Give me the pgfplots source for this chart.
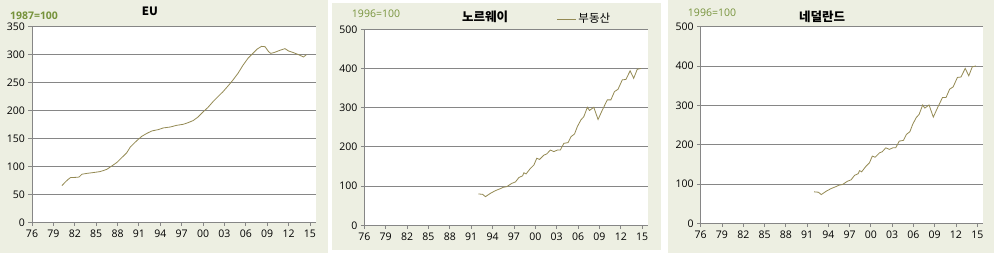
\documentclass[border=0pt]{standalone}
\usepackage{pgfplots}
\pgfplotsset{compat=1.18}
\usepackage{fontspec}
\setmainfont{Open Sans}
\newfontfamily\kr{Noto Sans CJK KR}
\definecolor{bg}{HTML}{EDEFE2}
\definecolor{ln}{HTML}{948A54}
\definecolor{gr}{HTML}{868686}
\definecolor{ol}{HTML}{77933C}
\pgfplotsset{myax/.style={scale only axis, anchor=south west,
  axis x line*=bottom, axis y line*=left,
  axis line style={gr, line width=0.8pt, -},
  ymajorgrids, grid style={gr, line width=0.8pt},
  xmin=1976, xmax=2015.85,
  xtick={1976,1979,...,2015},
  xticklabels={76,79,82,85,88,91,94,97,00,03,06,09,12,15},
  tick align=outside, major tick length=3.5pt,
  tick style={gr, line width=0.8pt},
  ticklabel style={font=\fontsize{10.5}{11}\selectfont},
  xticklabel style={yshift=-1pt},
  /pgf/number format/assume math mode=true,
  axis background/.style={fill=white},
  clip=false}}
\pgfplotstableread{
x y
1980.2 65.6
1980.6 71
1981.0 76
1981.4 80
1982.3 80.5
1982.6 81
1983.0 86
1983.8 87.7
1984.6 89
1985.5 90.6
1986.0 92.5
1986.5 94.8
1987.2 100.8
1987.9 107
1988.6 115.7
1989.3 124.6
1989.8 134.8
1990.7 146
1991.4 153.8
1992.1 159
1992.8 163.4
1993.7 165.8
1994.4 168.8
1995.4 170.5
1996.3 173.5
1997.2 175.3
1997.9 178.3
1998.6 181.9
1999.3 188.4
2000.0 197.4
2000.7 205.7
2001.4 215.9
2002.1 224.8
2002.8 233.7
2003.5 243.9
2004.2 254.6
2004.9 266.5
2005.6 280.9
2006.3 293.4
2007.0 302.3
2007.6 310
2008.2 314.8
2008.7 314.2
2009.2 305.3
2009.5 302.3
2009.9 303.5
2010.3 305.3
2010.9 308.3
2011.5 310.7
2012.0 306.5
2012.7 303.5
2013.3 300.5
2014.1 295.8
2014.5 300
}\eu
\pgfplotstableread{
x y
1992.0 80
1992.6 79
1993.0 73
1993.7 81.6
1994.4 88.4
1995.1 93.5
1995.5 97
1996.0 98.6
1996.7 107
1997.2 110.5
1997.7 122
1998.2 126
1998.4 134
1998.7 131
1999.3 145
1999.8 154
2000.2 171
2000.6 168
2001.2 179
2001.6 182
2002.1 192
2002.6 188
2003.1 192
2003.5 192
2004.0 209
2004.6 211
2005.0 226
2005.5 233
2005.9 252
2006.4 269
2006.8 277
2007.3 301
2007.6 293
2008.2 301
2008.8 270
2009.4 294
2010.1 320
2010.6 320
2011.1 341
2011.6 347
2012.2 371
2012.7 372
2013.3 394
2013.8 375
2014.3 398
2014.8 400
}\no
\begin{document}
\begin{tikzpicture}[x=1pt,y=1pt]
\fill[white] (0,0) rectangle (994,253);
\fill[bg] (0,0) rectangle (328,253);
\fill[bg] (332,3) rectangle (661,250);
\fill[bg] (668,0) rectangle (994,253);
% panel 1
\begin{axis}[myax, at={(32pt,30.7pt)}, width=284pt, height=195.6pt,
  ymin=0, ymax=350, ytick={0,50,...,350}]
\addplot[ln, line width=0.8pt] table[x=x,y=y] {\eu};
\end{axis}
\node[font=\kr\bfseries\fontsize{11.5}{12}\selectfont] at (150,242) {EU};
\node[font=\bfseries\fontsize{10.5}{11}\selectfont, text=ol] at (34,237) {1987=100};
% panel 2
\begin{axis}[myax, at={(364.3pt,27.7pt)}, width=284pt, height=196pt,
  ymin=0, ymax=500, ytick={0,100,...,500},
  legend style={at={(0.775,1.053)}, anchor=center, draw=none, fill=none,
    font=\kr\fontsize{11.5}{12}\selectfont},
  legend image code/.code={\draw[ln, line width=0.8pt] (0,0) -- (19pt,0);}]
\addplot[ln, line width=0.8pt] table[x=x,y=y] {\no};
\addlegendentry{부동산}
\end{axis}
\node[font=\kr\bfseries\fontsize{12.5}{13}\selectfont] at (485,236) {노르웨이};
\node[font=\fontsize{10.5}{11}\selectfont, text=ol] at (376,239) {1996=100};
% panel 3
\begin{axis}[myax, at={(700.7pt,29.7pt)}, width=282.6pt, height=196.6pt,
  ymin=0, ymax=500, ytick={0,100,...,500}]
\addplot[ln, line width=0.8pt] table[x=x,y=y] {\no};
\end{axis}
\node[font=\kr\bfseries\fontsize{12.5}{13}\selectfont] at (822,236) {네덜란드};
\node[font=\fontsize{10.5}{11}\selectfont, text=ol] at (712,240) {1996=100};
\pgfresetboundingbox
\useasboundingbox (0,0) rectangle (994,253);
\end{tikzpicture}
\end{document}
